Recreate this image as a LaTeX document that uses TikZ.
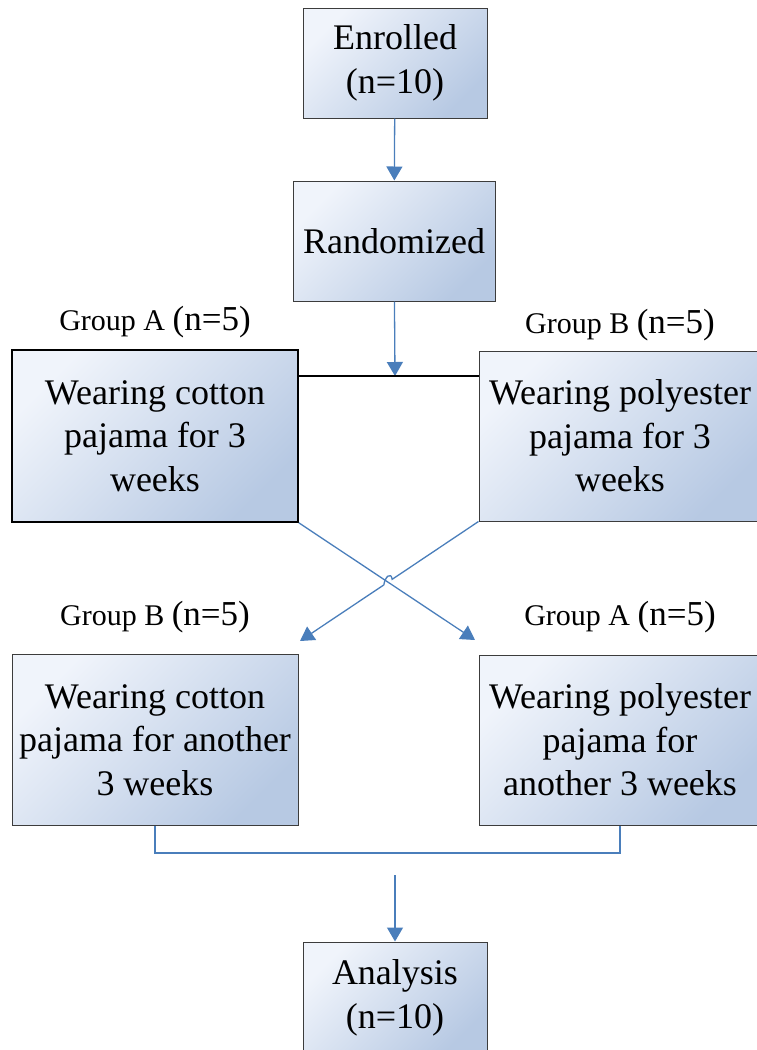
\documentclass[tikz,border=0pt]{standalone}
\usepackage{fontspec}
\setmainfont{Liberation Serif}
\usetikzlibrary{arrows.meta}
\usetikzlibrary{calc}

\definecolor{flowblue}{HTML}{4A7EBB}
\definecolor{boxtop}{HTML}{F0F4FB}
\definecolor{boxbot}{HTML}{B7C9E3}
\definecolor{boxline}{HTML}{3C3C3C}

\begin{document}
\begin{tikzpicture}[x=1pt,y=-1pt]
    \tikzset{
      >={Triangle[width=16pt,length=14pt]},
      stage/.style={rectangle, draw=boxline, line width=1pt, inner sep=0pt,
        top color=boxtop, bottom color=boxbot, shading angle=45,
        align=center, font=\fontsize{36}{43.5}\selectfont},
      grouplabel/.style={inner sep=0pt},
      flow/.style={draw=flowblue, line width=1.3pt},
    }
    \clip (0,0) rectangle (757,1050);

    \node[stage, minimum width=184pt, minimum height=110pt] (enrolled) at (395,63) {Enrolled\\(n=10)};
    \node[stage, minimum width=202pt, minimum height=120pt] (random) at (394,241) {Randomized};
    \node[stage, draw=black, line width=1.6pt, minimum width=286pt, minimum height=172pt] (cottonA) at (155,436) {Wearing cotton\\pajama for 3\\weeks};
    \node[stage, minimum width=282pt, minimum height=170pt] (polyB) at (620,436) {Wearing polyester\\pajama for 3\\weeks};
    \node[stage, minimum width=286pt, minimum height=171pt] (cottonB) at (155,740) {Wearing cotton\\pajama for another\\3 weeks};
    \node[stage, minimum width=282pt, minimum height=170pt] (polyA) at (620,740) {Wearing polyester\\pajama for\\another 3 weeks};
    \node[stage, minimum width=184pt, minimum height=112pt] (analysis) at (395,998) {Analysis\\(n=10)};

    \node[grouplabel] (labA1) at (155,322) {\fontsize{30}{36}\selectfont Group A \fontsize{35}{42}\selectfont(n=5)};
    \node[grouplabel] (labB1) at (620,325) {\fontsize{30}{36}\selectfont Group B \fontsize{35}{42}\selectfont(n=5)};
    \node[grouplabel] (labB2) at (155,617) {\fontsize{30}{36}\selectfont Group B \fontsize{35}{42}\selectfont(n=5)};
    \node[grouplabel] (labA2) at (620,617) {\fontsize{30}{36}\selectfont Group A \fontsize{35}{42}\selectfont(n=5)};

    \coordinate (split) at (395,376);
    \coordinate (tipR) at (475,640);
    \coordinate (tipL) at (300,641);
    \coordinate (merge) at (395,875);
    \coordinate (cross) at (intersection of cottonA.south east--tipR and polyB.south west--tipL);

    % enrolment and randomisation
    \draw[flow, ->] (enrolled) -- (random);
    \draw[flow, ->] (random) -- (split);
    \draw[black, line width=1.3pt] (cottonA.east |- split) -- (polyB.west |- split);

    % crossover
    \draw[flow, ->] (cottonA.south east) -- (tipR);
    \draw[flow, ->] (polyB.south west) -- ($(cross)!5pt!(polyB.south west)$)
      .. controls +(-1,-8) and +(1,-8) .. ($(cross)!5pt!(tipL)$) -- (tipL);

    % analysis
    \draw[flow] (cottonB.south) -- (cottonB.south |- 0,853) -| (polyA.south);
    \draw[flow, ->] (merge) -- (analysis);
  \end{tikzpicture}
\end{document}
